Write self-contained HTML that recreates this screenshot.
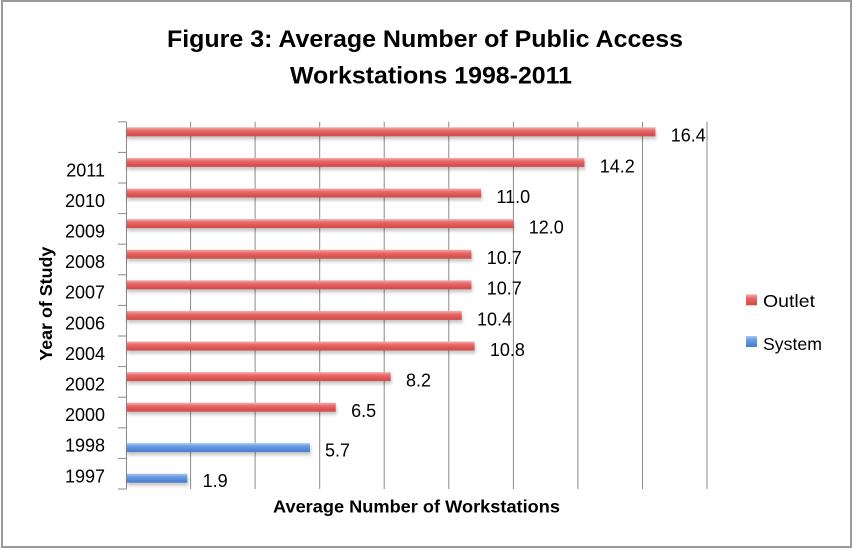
<!DOCTYPE html>
<html>
<head>
<meta charset="utf-8">
<style>
html,body{margin:0;padding:0;background:#fff;}
svg{display:block;}
text{font-family:"Liberation Sans",sans-serif;fill:#000;}
</style>
</head>
<body>
<svg width="853" height="548" viewBox="0 0 853 548" xmlns="http://www.w3.org/2000/svg">
<defs>
<linearGradient id="red" x1="0" y1="0" x2="0" y2="1">
<stop offset="0" stop-color="#f6b0b0"/>
<stop offset="0.35" stop-color="#e86a6a"/>
<stop offset="0.75" stop-color="#dc5252"/>
<stop offset="1" stop-color="#cf4a4a"/>
</linearGradient>
<linearGradient id="blue" x1="0" y1="0" x2="0" y2="1">
<stop offset="0" stop-color="#a8c8f2"/>
<stop offset="0.35" stop-color="#6a9ee2"/>
<stop offset="0.75" stop-color="#5288d6"/>
<stop offset="1" stop-color="#4a7ccc"/>
</linearGradient>
<filter id="sh" x="-5%" y="-50%" width="110%" height="250%">
<feGaussianBlur stdDeviation="1.5"/>
</filter>
</defs>
<rect x="0" y="0" width="853" height="548" fill="#fff"/>
<rect x="2" y="1" width="849" height="546" fill="none" stroke="#9a9a9a" stroke-width="2"/>

<!-- Title -->
<text x="425" y="47" font-size="24" font-weight="bold" text-anchor="middle" textLength="516" lengthAdjust="spacingAndGlyphs">Figure 3: Average Number of Public Access</text>
<text x="431" y="83.5" font-size="24" font-weight="bold" text-anchor="middle" textLength="282" lengthAdjust="spacingAndGlyphs">Workstations 1998-2011</text>

<!-- gridlines -->
<g stroke="#8a8a8a" stroke-width="1">
<line x1="190.6" y1="121.8" x2="190.6" y2="489"/>
<line x1="255.1" y1="121.8" x2="255.1" y2="489"/>
<line x1="319.7" y1="121.8" x2="319.7" y2="489"/>
<line x1="384.2" y1="121.8" x2="384.2" y2="489"/>
<line x1="448.8" y1="121.8" x2="448.8" y2="489"/>
<line x1="513.4" y1="121.8" x2="513.4" y2="489"/>
<line x1="577.9" y1="121.8" x2="577.9" y2="489"/>
<line x1="642.5" y1="121.8" x2="642.5" y2="489"/>
<line x1="707" y1="121.8" x2="707" y2="489"/>
<line x1="126.5" y1="121.8" x2="126.5" y2="489"/>
<!-- ticks -->
<line x1="118" y1="121.8" x2="126.5" y2="121.8"/>
<line x1="118" y1="152.4" x2="126.5" y2="152.4"/>
<line x1="118" y1="183" x2="126.5" y2="183"/>
<line x1="118" y1="213.6" x2="126.5" y2="213.6"/>
<line x1="118" y1="244.2" x2="126.5" y2="244.2"/>
<line x1="118" y1="274.8" x2="126.5" y2="274.8"/>
<line x1="118" y1="305.4" x2="126.5" y2="305.4"/>
<line x1="118" y1="336" x2="126.5" y2="336"/>
<line x1="118" y1="366.6" x2="126.5" y2="366.6"/>
<line x1="118" y1="397.2" x2="126.5" y2="397.2"/>
<line x1="118" y1="427.8" x2="126.5" y2="427.8"/>
<line x1="118" y1="458.4" x2="126.5" y2="458.4"/>
<line x1="118" y1="489" x2="126.5" y2="489"/>
</g>

<!-- shadows -->
<g fill="#000" opacity="0.22" filter="url(#sh)">
<rect x="127" y="130.3" width="529.4" height="9"/>
<rect x="127" y="160.9" width="458.4" height="9"/>
<rect x="127" y="191.5" width="355.1" height="9"/>
<rect x="127" y="222.1" width="387.4" height="9"/>
<rect x="127" y="252.7" width="345.4" height="9"/>
<rect x="127" y="283.3" width="345.4" height="9"/>
<rect x="127" y="313.9" width="335.7" height="9"/>
<rect x="127" y="344.5" width="348.6" height="9"/>
<rect x="127" y="375.1" width="264.7" height="9"/>
<rect x="127" y="405.7" width="209.8" height="9"/>
<rect x="127" y="446.1" width="184" height="9"/>
<rect x="127" y="476.7" width="61.3" height="9"/>
</g>

<!-- Outlet bars -->
<g fill="url(#red)">
<rect x="127" y="127.3" width="528.4" height="9"/>
<rect x="127" y="157.9" width="457.4" height="9"/>
<rect x="127" y="188.5" width="354.1" height="9"/>
<rect x="127" y="219.1" width="386.4" height="9"/>
<rect x="127" y="249.7" width="344.4" height="9"/>
<rect x="127" y="280.3" width="344.4" height="9"/>
<rect x="127" y="310.9" width="334.7" height="9"/>
<rect x="127" y="341.5" width="347.6" height="9"/>
<rect x="127" y="372.1" width="263.7" height="9"/>
<rect x="127" y="402.7" width="208.8" height="9"/>
</g>
<!-- System bars -->
<g fill="url(#blue)">
<rect x="127" y="443.1" width="183" height="9"/>
<rect x="127" y="473.7" width="60.3" height="9"/>
</g>

<!-- value labels -->
<g font-size="18">
<text x="670.7" y="141.7">16.4</text>
<text x="599.7" y="172.3">14.2</text>
<text x="496.4" y="202.9">11.0</text>
<text x="528.7" y="233.5">12.0</text>
<text x="486.7" y="264.1">10.7</text>
<text x="486.7" y="294.7">10.7</text>
<text x="477" y="325.3">10.4</text>
<text x="489.9" y="355.9">10.8</text>
<text x="406" y="386.5">8.2</text>
<text x="351.1" y="417.1">6.5</text>
<text x="325" y="456.6">5.7</text>
<text x="202.6" y="487.2">1.9</text>
</g>

<!-- y category labels -->
<g font-size="18" text-anchor="end">
<text x="105" y="176.3">2011</text>
<text x="105" y="206.9">2010</text>
<text x="105" y="237.5">2009</text>
<text x="105" y="268.1">2008</text>
<text x="105" y="298.7">2007</text>
<text x="105" y="329.3">2006</text>
<text x="105" y="359.9">2004</text>
<text x="105" y="390.5">2002</text>
<text x="105" y="421.1">2000</text>
<text x="105" y="451.7">1998</text>
<text x="105" y="482.3">1997</text>
</g>

<!-- axis titles -->
<text x="416.5" y="512.7" font-size="17.5" font-weight="bold" text-anchor="middle" textLength="287" lengthAdjust="spacingAndGlyphs">Average Number of Workstations</text>
<text transform="translate(52,303.7) rotate(-90)" x="0" y="0" font-size="17.5" font-weight="bold" text-anchor="middle" textLength="114" lengthAdjust="spacingAndGlyphs">Year of Study</text>

<!-- legend -->
<rect x="746" y="294.3" width="11" height="11" fill="url(#red)"/>
<text x="763" y="307" font-size="17.5" textLength="52" lengthAdjust="spacingAndGlyphs">Outlet</text>
<rect x="746" y="336" width="11" height="11" fill="url(#blue)"/>
<text x="763" y="350" font-size="17.5" textLength="59" lengthAdjust="spacingAndGlyphs">System</text>
</svg>
</body>
</html>
